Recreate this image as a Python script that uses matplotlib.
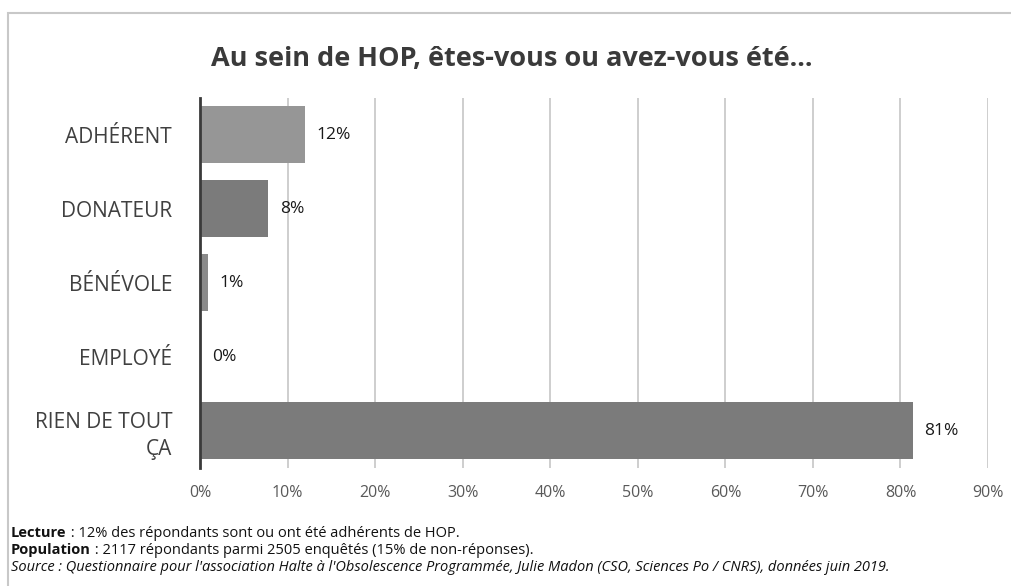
import matplotlib.pyplot as plt
from matplotlib.patches import Rectangle

categories = ["ADHÉRENT", "DONATEUR", "BÉNÉVOLE", "EMPLOYÉ", "RIEN DE TOUT\nÇA"]
values = [12.0, 7.8, 0.9, 0.1, 81.4]
labels = ["12%", "8%", "1%", "0%", "81%"]
colors = ["#969696", "#7b7b7b", "#8a8a8a", "#7b7b7b", "#7b7b7b"]
xticks = list(range(0, 100, 10))

plt.rcParams['font.family'] = ['Open Sans', 'DejaVu Sans']
note_font = ['Liberation Sans Narrow', 'Open Sans', 'DejaVu Sans']

fig = plt.figure(figsize=(10.11, 5.86), dpi=100)
fig.patches.append(Rectangle((0.008, -0.05), 1.1, 1.028, transform=fig.transFigure,
                             fill=False, edgecolor="#c8c8c8", linewidth=1.5))

ax = fig.add_axes([0.1978, 0.2014, 0.7795, 0.6314])
y = list(range(len(categories)))
ax.barh(y, values, height=0.77, color=colors, zorder=3)
for yi, v, lab in zip(y, values, labels):
    ax.text(v + 1.3, yi, lab, va="center", ha="left", fontsize=12.5, color="#1a1a1a")

ax.set_ylim(4.5, -0.5)
ax.set_xlim(0, 90)
ax.set_yticks(y)
ax.set_yticklabels(categories, fontsize=15, color="#404040", linespacing=1.35)
ax.set_xticks(xticks)
ax.set_xticklabels([f"{t}%" for t in xticks], fontsize=11.5, color="#595959")
ax.tick_params(axis="y", length=0, pad=20)
ax.tick_params(axis="x", length=0, pad=12)
ax.grid(axis="x", color="#c6c6c6", linewidth=1.2, zorder=0)
for s in ["top", "right", "bottom"]:
    ax.spines[s].set_visible(False)
ax.spines["left"].set_color("#3a3a3a")
ax.spines["left"].set_linewidth(2)
ax.spines["left"].set_zorder(4)

fig.text(0.506, 0.900, "Au sein de HOP, êtes-vous ou avez-vous été...", ha="center", va="center",
         fontsize=19.5, fontweight="bold", color="#3a3a3a")

notes = [
    ("Lecture", " : 12% des répondants sont ou ont été adhérents de HOP.", 0.090),
    ("Population", " : 2117 répondants parmi 2505 enquêtés (15% de non-réponses).", 0.061),
]
for head, rest, yy in notes:
    t = fig.text(0.011, yy, head, fontsize=10.5, fontweight="bold", va="center",
                 color="#111111", family=note_font)
    ax.annotate(rest, xy=(1, 0.5), xycoords=t, va="center", ha="left",
                fontsize=10.5, color="#111111", family=note_font, annotation_clip=False)

fig.text(0.011, 0.031, "Source : Questionnaire pour l'association Halte à l'Obsolescence Programmée, "
         "Julie Madon (CSO, Sciences Po / CNRS), données juin 2019.", fontsize=10.5, style="italic",
         va="center", color="#111111", family=note_font)

fig.savefig("out.png", dpi=100)
